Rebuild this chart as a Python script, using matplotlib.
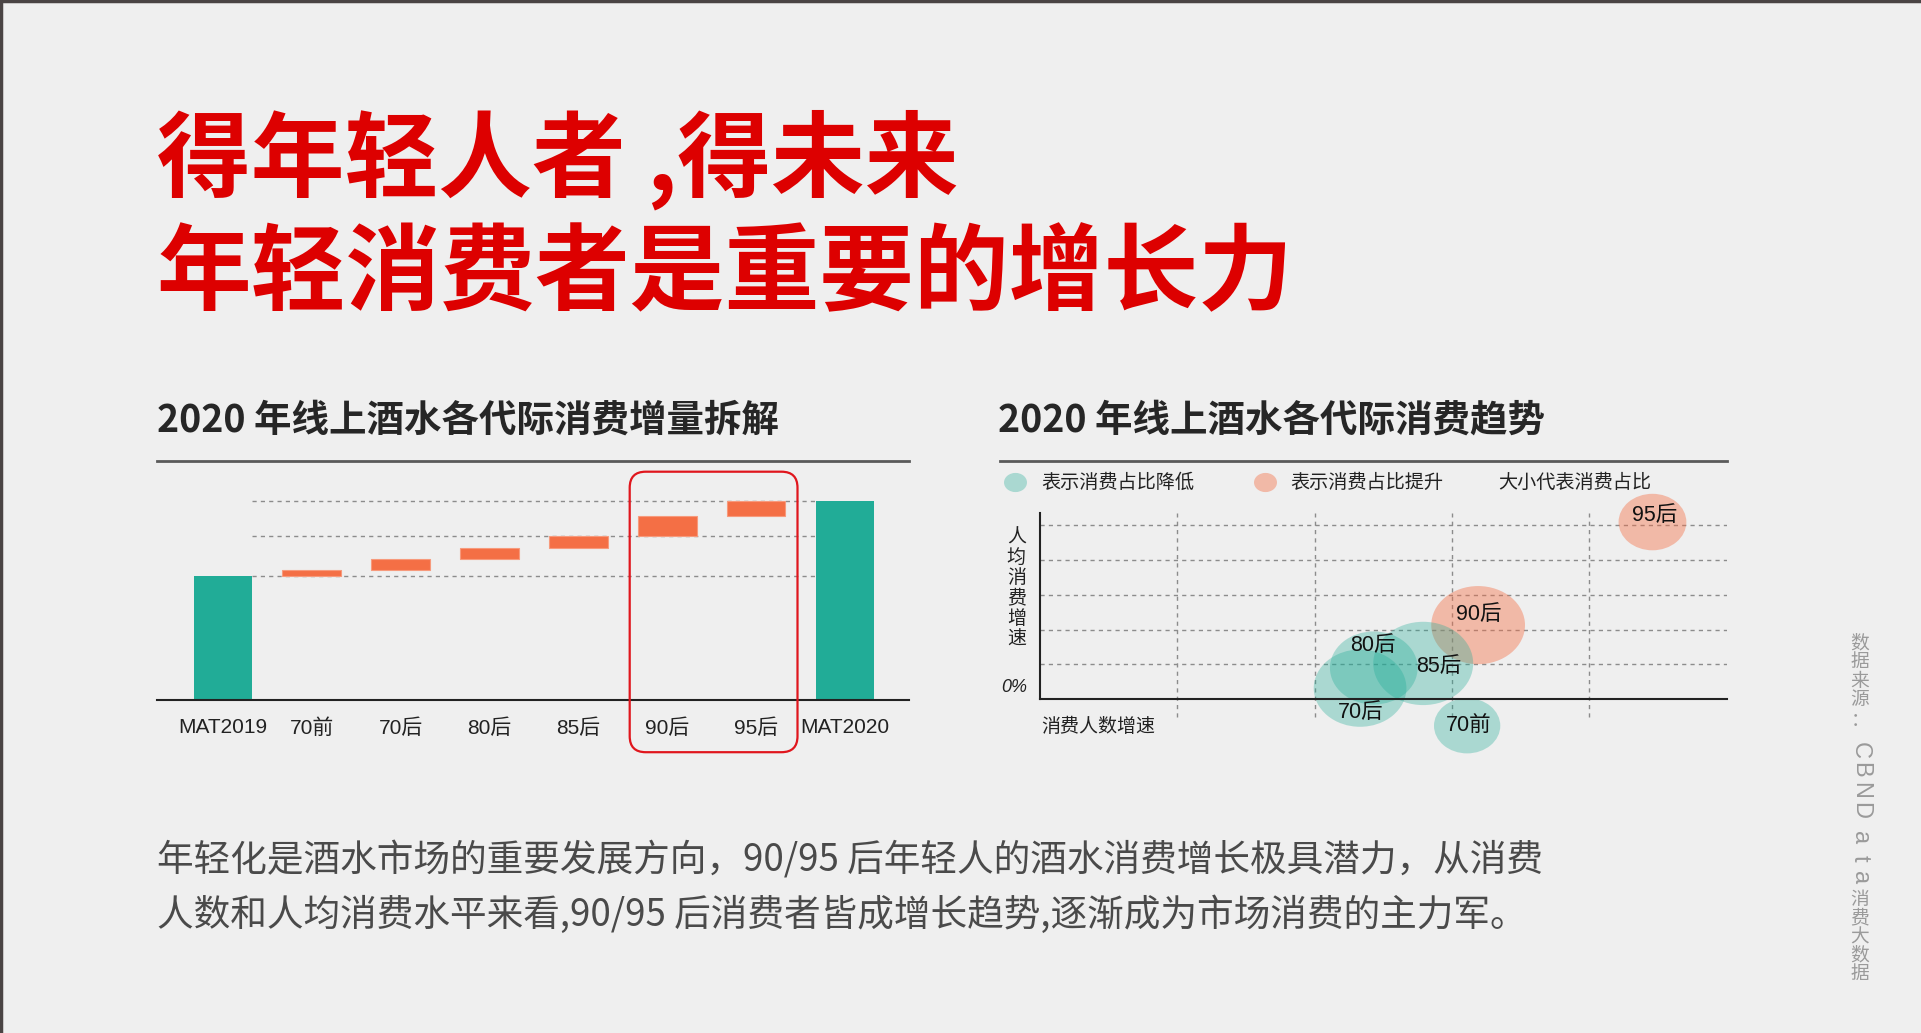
import matplotlib
matplotlib.use('Agg')
import matplotlib.pyplot as plt
import matplotlib.colors as mcolors
from matplotlib.patches import FancyBboxPatch
from matplotlib.path import Path
from matplotlib.transforms import Affine2D

plt.rcParams['font.family'] = ['Noto Sans CJK SC', 'DejaVu Sans']

# waterfall: online liquor spending increase by generation
wf_labels = ['MAT2019', '70前', '70后', '80后', '85后', '90后', '95后', 'MAT2020']
base_2019 = 100.0
increments = [4.9, 9.2, 8.9, 9.5, 16.2, 12.2]
total_2020 = 160.9

# bubbles: x = growth of buyers, y = growth of spend per buyer, size = spending share
gens = ['95后', '90后', '85后', '80后', '70后', '70前']
buyer_growth = [4.46, 3.19, 2.79, 2.43, 2.33, 3.11]
spend_growth = [5.09, 2.13, 1.03, 0.90, 0.32, -0.76]
share = [4.6, 8.8, 10.0, 7.7, 8.6, 4.4]
share_rising = [True, True, False, False, False, False]
label_offsets = [(1.4, 5), (0.7, 8), (11.5, -2), (-0.7, 16.5), (0.7, -17.3), (1.4, -0.7)]

TEAL = '#21AC97'
ORANGE = '#F46F45'
RED = '#DD0000'
BG = '#EFEFEF'
LATIN = ['Liberation Sans', 'Noto Sans CJK SC']

W, H = 1921, 1033
fig = plt.figure(figsize=(W / 100, H / 100), dpi=100)
fig.patch.set_facecolor(BG)


def px_axes(x0, y0, x1, y1):
    return fig.add_axes([x0 / W, 1 - y1 / H, (x1 - x0) / W, (y1 - y0) / H])


# ---- left: waterfall ----
ax = px_axes(157, 461, 909, 699.5)
ax.set_facecolor('none')
ax.set_xlim(-0.742, 7.72)
ax.set_ylim(0, 193)
bw = 0.66
ax.bar(0, base_2019, width=bw, color=TEAL, zorder=2)
ax.bar(7, total_2020, width=bw, color=TEAL, zorder=2)
bottom = base_2019
levels = [base_2019]
for i, inc in enumerate(increments):
    ax.bar(i + 1, inc, bottom=bottom, width=bw, color=ORANGE, edgecolor='#F79A7C',
           linewidth=0.8, zorder=2)
    bottom += inc
    if i == 3:
        levels.append(bottom)
levels.append(total_2020)
for lv in levels:
    ax.plot([bw / 2, 7 - bw / 2], [lv, lv], ls=(0, (3, 3)), color='#8c8c8c', lw=1, zorder=1)
for s in ['left', 'right']:
    ax.spines[s].set_visible(False)
ax.spines['top'].set_color('#5a5a5a')
ax.spines['top'].set_linewidth(2)
ax.spines['bottom'].set_color('#222222')
ax.spines['bottom'].set_linewidth(1.5)
ax.set_yticks([])
ax.set_xticks(range(len(wf_labels)))
ax.set_xticklabels(wf_labels, fontsize=15, family=LATIN, color='#222222')
ax.tick_params(axis='x', length=0, pad=13.5)

# ---- right: bubbles ----
bx = px_axes(1040.2, 513, 1726.6, 699.3)
bx.set_facecolor('none')
bx.set_xlim(0, 5)
bx.set_ylim(0, 5.35)
for y in range(1, 6):
    bx.plot([0, 5], [y, y], ls=(0, (3, 3)), color='#8c8c8c', lw=1, zorder=0.5)
for x in range(1, 5):
    bx.plot([x, x], [-0.5, 5.35], ls=(0, (3, 3)), color='#8c8c8c', lw=1, zorder=0.5,
            clip_on=False)
ellipse = Affine2D().scale(1, 1 / 1.2).transform_path(Path.unit_circle())
cols = [mcolors.to_rgba(ORANGE, 0.42) if r else mcolors.to_rgba(TEAL, 0.335)
        for r in share_rising]
bx.scatter(buyer_growth, spend_growth, s=[v * 518 for v in share], marker=ellipse,
           c=cols, linewidths=0, clip_on=False, zorder=1)
for g, xv, yv, off in zip(gens, buyer_growth, spend_growth, label_offsets):
    bx.annotate(g, (xv, yv), xytext=off, textcoords='offset points', ha='center',
                va='center', fontsize=15.5, family=LATIN, color='#111111', zorder=3,
                annotation_clip=False)
for s in ['top', 'right']:
    bx.spines[s].set_visible(False)
for s in ['left', 'bottom']:
    bx.spines[s].set_color('#222222')
    bx.spines[s].set_linewidth(1.5)
bx.set_xticks([])
bx.set_yticks([])

# ---- overlay in pixel coordinates ----
cv = fig.add_axes([0, 0, 1, 1])
cv.set_xlim(0, W)
cv.set_ylim(H, 0)
cv.axis('off')
cv.patch.set_alpha(0)
cv.set_zorder(5)

cv.plot([0, W], [1, 1], color='#4a4444', lw=2.5)
cv.plot([1, 1], [0, H], color='#4a4444', lw=2.5)

cv.text(157, 190, '得年轻人者 ,得未来', fontsize=67.5, fontweight='bold', color=RED,
        va='baseline')
cv.text(157, 303, '年轻消费者是重要的增长力', fontsize=68.2, fontweight='bold', color=RED,
        va='baseline')

cv.text(157, 432, '2020 年线上酒水各代际消费增量拆解', fontsize=27, fontweight='bold',
        color='#262626', va='baseline')
cv.text(998, 432, '2020 年线上酒水各代际消费趋势', fontsize=27, fontweight='bold',
        color='#262626', va='baseline')
cv.plot([999.6, 1726.6], [461, 461], color='#5a5a5a', lw=2)

# highlight box around 90后 / 95后
cv.add_patch(FancyBboxPatch((629.7, 471.7), 167.8, 280.5,
                            boxstyle='round,pad=0,rounding_size=16',
                            fill=False, edgecolor='#E0161D', lw=1.6))

# legend
cv.scatter([1014.9], [481.7], s=274, marker=ellipse, c=[mcolors.to_rgba(TEAL, 0.335)],
           linewidths=0)
cv.scatter([1265], [481.7], s=274, marker=ellipse, c=[mcolors.to_rgba(ORANGE, 0.42)],
           linewidths=0)
cv.text(1041, 482, '表示消费占比降低', fontsize=13.8, color='#222222', va='center')
cv.text(1290, 482, '表示消费占比提升', fontsize=13.8, color='#222222', va='center')
cv.text(1498, 482, '大小代表消费占比', fontsize=13.8, color='#222222', va='center')

cv.text(1014, 688, '0%', fontsize=13, style='italic', family=LATIN, color='#222222',
        ha='center', va='center')
for i, ch in enumerate('人均消费增速'):
    cv.text(1016.3, 536.7 + i * 20.5, ch, fontsize=13.7, color='#222222',
            ha='center', va='center')
cv.text(1041, 726, '消费人数增速', fontsize=13.7, color='#222222', va='center')

cv.text(157, 872, '年轻化是酒水市场的重要发展方向，90/95 后年轻人的酒水消费增长极具潜力，从消费',
        fontsize=26.4, fontweight='light', color='#4a4a4a', va='baseline')
cv.text(157, 925.5, '人数和人均消费水平来看,90/95 后消费者皆成增长趋势,逐渐成为市场消费的主力军。',
        fontsize=26.4, fontweight='light', color='#4a4a4a', va='baseline')

# vertical source note
src = [('数', 643), ('据', 662), ('来', 681), ('源', 700), ('：', 721),
       ('C', 750), ('B', 770), ('N', 790), ('D', 810), ('a', 838), ('t', 858), ('a', 878),
       ('消', 900), ('费', 918), ('大', 937), ('数', 955), ('据', 973)]
for ch, yy in src:
    if ch.isascii():
        cv.text(1860, yy, ch, fontsize=17, family=LATIN, color='#9a9a9a', rotation=-90,
                ha='center', va='center')
    else:
        cv.text(1860, yy, ch, fontsize=13.5, color='#9a9a9a', ha='center', va='center')

fig.savefig('out.png', dpi=100, facecolor=BG)
